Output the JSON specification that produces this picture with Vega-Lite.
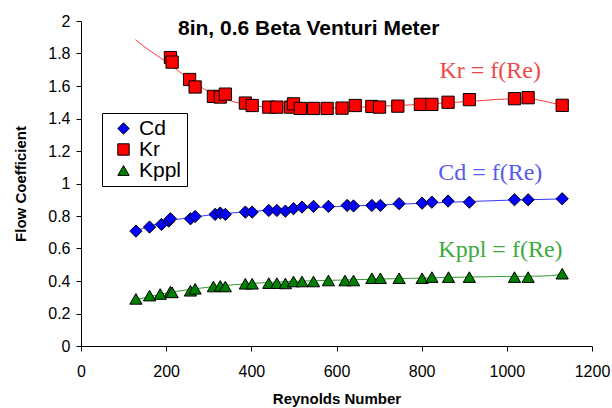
{
  "$schema": "https://vega.github.io/schema/vega-lite/v6.json",
  "width": 511,
  "height": 325,
  "autosize": {"type": "none"},
  "padding": {"left": 81, "top": 21, "right": 20, "bottom": 62},
  "background": "white",
  "title": {
    "text": "8in, 0.6 Beta Venturi Meter",
    "anchor": "start",
    "frame": "group",
    "dx": 97,
    "dy": 30,
    "fontSize": 21,
    "fontWeight": "bold",
    "font": "Liberation Sans",
    "color": "black"
  },
  "config": {
    "view": {"stroke": null},
    "font": "Liberation Sans",
    "axis": {
      "grid": false,
      "domainColor": "black",
      "tickColor": "black",
      "labelColor": "black",
      "titleColor": "black",
      "labelFont": "Liberation Sans",
      "titleFont": "Liberation Sans",
      "labelFontSize": 16,
      "titleFontSize": 15,
      "titleFontWeight": "bold",
      "tickSize": 5,
      "labelOverlap": false,
      "labelSeparation": 0,
      "labelFlush": false
    }
  },
  "datasets": {
    "pts": [
      {"Re": 210, "v": 1.775, "s": "Kr"}, {"Re": 214, "v": 1.747, "s": "Kr"}, {"Re": 255, "v": 1.64, "s": "Kr"},
      {"Re": 268, "v": 1.594, "s": "Kr"}, {"Re": 311, "v": 1.536, "s": "Kr"}, {"Re": 327, "v": 1.532, "s": "Kr"},
      {"Re": 339, "v": 1.55, "s": "Kr"}, {"Re": 386, "v": 1.495, "s": "Kr"}, {"Re": 402, "v": 1.48, "s": "Kr"},
      {"Re": 441, "v": 1.47, "s": "Kr"}, {"Re": 460, "v": 1.47, "s": "Kr"}, {"Re": 492, "v": 1.47, "s": "Kr"},
      {"Re": 499, "v": 1.49, "s": "Kr"}, {"Re": 515, "v": 1.462, "s": "Kr"}, {"Re": 546, "v": 1.462, "s": "Kr"},
      {"Re": 578, "v": 1.462, "s": "Kr"}, {"Re": 613, "v": 1.464, "s": "Kr"}, {"Re": 644, "v": 1.48, "s": "Kr"},
      {"Re": 683, "v": 1.474, "s": "Kr"}, {"Re": 701, "v": 1.47, "s": "Kr"}, {"Re": 744, "v": 1.476, "s": "Kr"},
      {"Re": 797, "v": 1.487, "s": "Kr"}, {"Re": 824, "v": 1.487, "s": "Kr"}, {"Re": 862, "v": 1.5, "s": "Kr"},
      {"Re": 912, "v": 1.516, "s": "Kr"}, {"Re": 1018, "v": 1.522, "s": "Kr"}, {"Re": 1050, "v": 1.528, "s": "Kr"},
      {"Re": 1130, "v": 1.481, "s": "Kr"},
      {"Re": 129, "v": 0.707, "s": "Cd"}, {"Re": 161, "v": 0.732, "s": "Cd"}, {"Re": 189, "v": 0.748, "s": "Cd"},
      {"Re": 206, "v": 0.769, "s": "Cd"}, {"Re": 210, "v": 0.783, "s": "Cd"}, {"Re": 257, "v": 0.783, "s": "Cd"},
      {"Re": 268, "v": 0.797, "s": "Cd"}, {"Re": 315, "v": 0.81, "s": "Cd"}, {"Re": 327, "v": 0.818, "s": "Cd"},
      {"Re": 339, "v": 0.81, "s": "Cd"}, {"Re": 386, "v": 0.824, "s": "Cd"}, {"Re": 402, "v": 0.824, "s": "Cd"},
      {"Re": 441, "v": 0.834, "s": "Cd"}, {"Re": 460, "v": 0.834, "s": "Cd"}, {"Re": 480, "v": 0.83, "s": "Cd"},
      {"Re": 499, "v": 0.845, "s": "Cd"}, {"Re": 519, "v": 0.855, "s": "Cd"}, {"Re": 546, "v": 0.859, "s": "Cd"},
      {"Re": 581, "v": 0.859, "s": "Cd"}, {"Re": 625, "v": 0.865, "s": "Cd"}, {"Re": 640, "v": 0.862, "s": "Cd"},
      {"Re": 683, "v": 0.865, "s": "Cd"}, {"Re": 703, "v": 0.865, "s": "Cd"}, {"Re": 747, "v": 0.876, "s": "Cd"},
      {"Re": 801, "v": 0.879, "s": "Cd"}, {"Re": 824, "v": 0.885, "s": "Cd"}, {"Re": 862, "v": 0.892, "s": "Cd"},
      {"Re": 912, "v": 0.885, "s": "Cd"}, {"Re": 1018, "v": 0.9, "s": "Cd"}, {"Re": 1050, "v": 0.9, "s": "Cd"},
      {"Re": 1130, "v": 0.906, "s": "Cd"},
      {"Re": 129, "v": 0.29, "s": "Kppl"}, {"Re": 161, "v": 0.31, "s": "Kppl"}, {"Re": 186, "v": 0.32, "s": "Kppl"},
      {"Re": 210, "v": 0.335, "s": "Kppl"}, {"Re": 214, "v": 0.33, "s": "Kppl"}, {"Re": 257, "v": 0.34, "s": "Kppl"},
      {"Re": 268, "v": 0.352, "s": "Kppl"}, {"Re": 311, "v": 0.366, "s": "Kppl"}, {"Re": 327, "v": 0.37, "s": "Kppl"},
      {"Re": 339, "v": 0.366, "s": "Kppl"}, {"Re": 386, "v": 0.383, "s": "Kppl"}, {"Re": 402, "v": 0.383, "s": "Kppl"},
      {"Re": 441, "v": 0.387, "s": "Kppl"}, {"Re": 460, "v": 0.387, "s": "Kppl"}, {"Re": 480, "v": 0.385, "s": "Kppl"},
      {"Re": 499, "v": 0.397, "s": "Kppl"}, {"Re": 519, "v": 0.397, "s": "Kppl"}, {"Re": 546, "v": 0.397, "s": "Kppl"},
      {"Re": 581, "v": 0.403, "s": "Kppl"}, {"Re": 620, "v": 0.403, "s": "Kppl"}, {"Re": 640, "v": 0.403, "s": "Kppl"},
      {"Re": 683, "v": 0.417, "s": "Kppl"}, {"Re": 703, "v": 0.417, "s": "Kppl"}, {"Re": 747, "v": 0.417, "s": "Kppl"},
      {"Re": 801, "v": 0.417, "s": "Kppl"}, {"Re": 824, "v": 0.424, "s": "Kppl"}, {"Re": 863, "v": 0.424, "s": "Kppl"},
      {"Re": 912, "v": 0.424, "s": "Kppl"}, {"Re": 1018, "v": 0.424, "s": "Kppl"}, {"Re": 1050, "v": 0.424, "s": "Kppl"},
      {"Re": 1130, "v": 0.445, "s": "Kppl"}
    ],
    "fits": [
      {"Re": 128, "v": 1.885, "s": "Kr"}, {"Re": 160, "v": 1.82, "s": "Kr"}, {"Re": 200, "v": 1.75, "s": "Kr"},
      {"Re": 250, "v": 1.65, "s": "Kr"}, {"Re": 300, "v": 1.565, "s": "Kr"}, {"Re": 350, "v": 1.51, "s": "Kr"},
      {"Re": 400, "v": 1.48, "s": "Kr"}, {"Re": 450, "v": 1.468, "s": "Kr"}, {"Re": 500, "v": 1.463, "s": "Kr"},
      {"Re": 600, "v": 1.465, "s": "Kr"}, {"Re": 700, "v": 1.475, "s": "Kr"}, {"Re": 800, "v": 1.487, "s": "Kr"},
      {"Re": 900, "v": 1.503, "s": "Kr"}, {"Re": 950, "v": 1.512, "s": "Kr"}, {"Re": 1000, "v": 1.52, "s": "Kr"},
      {"Re": 1050, "v": 1.52, "s": "Kr"}, {"Re": 1100, "v": 1.5, "s": "Kr"}, {"Re": 1130, "v": 1.48, "s": "Kr"},
      {"Re": 129, "v": 0.71, "s": "Cd"}, {"Re": 200, "v": 0.765, "s": "Cd"}, {"Re": 300, "v": 0.805, "s": "Cd"},
      {"Re": 400, "v": 0.828, "s": "Cd"}, {"Re": 500, "v": 0.845, "s": "Cd"}, {"Re": 600, "v": 0.858, "s": "Cd"},
      {"Re": 700, "v": 0.868, "s": "Cd"}, {"Re": 800, "v": 0.878, "s": "Cd"}, {"Re": 900, "v": 0.888, "s": "Cd"},
      {"Re": 1000, "v": 0.897, "s": "Cd"}, {"Re": 1130, "v": 0.905, "s": "Cd"},
      {"Re": 129, "v": 0.285, "s": "Kppl"}, {"Re": 200, "v": 0.325, "s": "Kppl"}, {"Re": 300, "v": 0.362, "s": "Kppl"},
      {"Re": 400, "v": 0.385, "s": "Kppl"}, {"Re": 500, "v": 0.398, "s": "Kppl"}, {"Re": 600, "v": 0.405, "s": "Kppl"},
      {"Re": 700, "v": 0.412, "s": "Kppl"}, {"Re": 800, "v": 0.418, "s": "Kppl"}, {"Re": 900, "v": 0.424, "s": "Kppl"},
      {"Re": 1000, "v": 0.428, "s": "Kppl"}, {"Re": 1080, "v": 0.43, "s": "Kppl"}, {"Re": 1130, "v": 0.44, "s": "Kppl"}
    ],
    "notes": [
      {"Re": 961, "v": 1.692, "label": "Kr = f(Re)", "s": "Kr"},
      {"Re": 961, "v": 1.062, "label": "Cd = f(Re)", "s": "Cd"},
      {"Re": 985, "v": 0.588, "label": "Kppl = f(Re)", "s": "Kppl"}
    ]
  },
  "layer": [
    {
      "data": {"name": "fits"},
      "transform": [{"filter": "datum.s === 'Kr'"}],
      "mark": {"type": "line", "strokeWidth": 1, "interpolate": "monotone", "color": "#ff3838"},
      "encoding": {
        "x": {"field": "Re", "type": "quantitative", "scale": {"domain": [0, 1200]},
              "axis": {"tickCount": 6, "format": "d", "title": "Reynolds Number", "labelPadding": 12, "titlePadding": 12, "labelOverlap": false}},
        "y": {"field": "v", "type": "quantitative", "scale": {"domain": [0, 2]},
              "axis": {"tickCount": 10, "format": "~g", "title": "Flow Coefficient", "labelPadding": 6, "titlePadding": 19, "labelOverlap": false, "labelSeparation": 0}}
      }
    },
    {
      "data": {"name": "fits"},
      "transform": [{"filter": "datum.s === 'Cd'"}],
      "mark": {"type": "line", "strokeWidth": 1, "interpolate": "monotone", "color": "#3838ff"},
      "encoding": {
        "x": {"field": "Re", "type": "quantitative"},
        "y": {"field": "v", "type": "quantitative"}
      }
    },
    {
      "data": {"name": "fits"},
      "transform": [{"filter": "datum.s === 'Kppl'"}],
      "mark": {"type": "line", "strokeWidth": 1, "interpolate": "monotone", "color": "#2f9a2f"},
      "encoding": {
        "x": {"field": "Re", "type": "quantitative"},
        "y": {"field": "v", "type": "quantitative"}
      }
    },
    {
      "data": {"name": "pts"},
      "mark": {"type": "point", "filled": true, "stroke": "black", "strokeWidth": 1, "opacity": 1},
      "encoding": {
        "x": {"field": "Re", "type": "quantitative"},
        "y": {"field": "v", "type": "quantitative"},
        "fill": {"field": "s", "type": "nominal", "scale": {"domain": ["Cd", "Kr", "Kppl"], "range": ["#0000ff", "#ff0000", "#008000"]},
                 "legend": {"title": null, "orient": "none", "legendX": 21, "legendY": 92, "direction": "vertical",
                            "strokeColor": "black", "fillColor": "white", "padding": 5, "rowPadding": -1,
                            "labelFontSize": 21, "labelFont": "Liberation Sans", "labelColor": "black", "labelOffset": 5,
                            "symbolOffset": 6,
                            "symbolStrokeColor": "black", "symbolStrokeWidth": 1, "symbolSize": 130, "symbolOpacity": 1}},
        "shape": {"field": "s", "type": "nominal", "scale": {"domain": ["Cd", "Kr", "Kppl"], "range": ["diamond", "square", "triangle-up"]}},
        "size": {"value": 150}
      }
    },
    {
      "data": {"name": "notes"},
      "transform": [{"filter": "datum.s === 'Kr'"}],
      "mark": {"type": "text", "font": "Liberation Serif", "fontSize": 24, "align": "center", "baseline": "middle", "color": "#f04848"},
      "encoding": {
        "x": {"field": "Re", "type": "quantitative"},
        "y": {"field": "v", "type": "quantitative"},
        "text": {"field": "label"}
      }
    },
    {
      "data": {"name": "notes"},
      "transform": [{"filter": "datum.s === 'Cd'"}],
      "mark": {"type": "text", "font": "Liberation Serif", "fontSize": 24, "align": "center", "baseline": "middle", "color": "#5a5aee"},
      "encoding": {
        "x": {"field": "Re", "type": "quantitative"},
        "y": {"field": "v", "type": "quantitative"},
        "text": {"field": "label"}
      }
    },
    {
      "data": {"name": "notes"},
      "transform": [{"filter": "datum.s === 'Kppl'"}],
      "mark": {"type": "text", "font": "Liberation Serif", "fontSize": 24, "align": "center", "baseline": "middle", "color": "#3caa3c"},
      "encoding": {
        "x": {"field": "Re", "type": "quantitative"},
        "y": {"field": "v", "type": "quantitative"},
        "text": {"field": "label"}
      }
    }
  ]
}
